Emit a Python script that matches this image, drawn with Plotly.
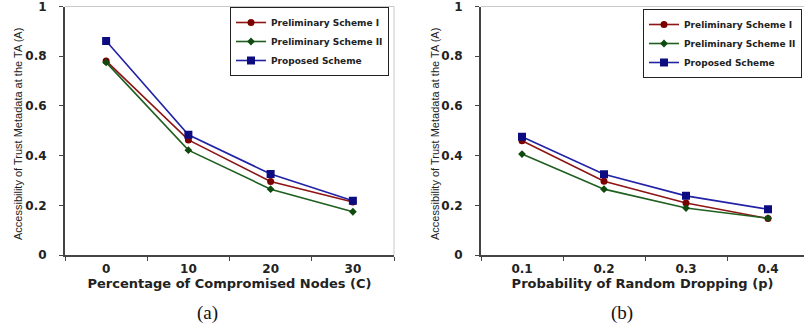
import plotly.graph_objects as go

# ---- data ----
cats_a = ["0", "10", "20", "30"]
cats_b = ["0.1", "0.2", "0.3", "0.4"]
y_ticks = [0, 0.2, 0.4, 0.6, 0.8, 1]
y_ticktext = ["0", "0.2", "0.4", "0.6", "0.8", "1"]

pre1_a = [0.781, 0.463, 0.296, 0.213]
pre2_a = [0.775, 0.422, 0.265, 0.174]
prop_a = [0.861, 0.484, 0.326, 0.218]

pre1_b = [0.460, 0.297, 0.209, 0.147]
pre2_b = [0.406, 0.265, 0.189, 0.148]
prop_b = [0.476, 0.325, 0.238, 0.184]

names = ["Preliminary Scheme I", "Preliminary Scheme II", "Proposed Scheme"]
y_title = "Accessibility of Trust Metadata at the TA (A)"
line_colors = ["#8f1414", "#1f5f1f", "#2222a6"]
marker_colors = ["#7a0000", "#0f4a0f", "#0c0c80"]
symbols = ["circle", "diamond", "square"]
msizes = [7, 6, 8]

W, H = 804, 331

def px_x(p):
    return p / W

def px_y(p):
    return 1 - p / H

fig = go.Figure()

for i, ys in enumerate([pre1_a, pre2_a, prop_a]):
    fig.add_trace(go.Scatter(
        x=cats_a, y=ys, name=names[i], mode="lines+markers",
        line=dict(color=line_colors[i], width=1.6),
        marker=dict(symbol=symbols[i], size=msizes[i], color=marker_colors[i]),
        xaxis="x", yaxis="y", legend="legend"))

for i, ys in enumerate([pre1_b, pre2_b, prop_b]):
    fig.add_trace(go.Scatter(
        x=cats_b, y=ys, name=names[i], mode="lines+markers",
        line=dict(color=line_colors[i], width=1.6),
        marker=dict(symbol=symbols[i], size=msizes[i], color=marker_colors[i]),
        xaxis="x2", yaxis="y2", legend="legend2"))

tickfont = dict(family="DejaVu Sans", size=12, color="#222222", weight="bold")
titlefont_x = dict(family="DejaVu Sans", size=13, color="#222222", weight="bold")
titlefont_y = dict(family="Liberation Sans Narrow, Arial Narrow, Liberation Sans", size=11, color="#222222")
legfont = dict(family="DejaVu Sans", size=9, color="#222222", weight="bold")

ydom = [76 / H, 324.5 / H]

common_x = dict(type="category", tickson="boundaries", ticks="outside", ticklen=4,
                tickcolor="#444444", showline=True, linecolor="#444444", linewidth=2,
                showgrid=False, zeroline=False, tickfont=tickfont, ticklabelstandoff=2)
common_y = dict(range=[0, 1], tickvals=y_ticks, ticktext=y_ticktext, ticks="outside", ticklen=4,
                tickcolor="#444444", showline=True, linecolor="#444444", linewidth=2,
                showgrid=False, zeroline=False, tickfont=tickfont, ticklabelstandoff=10,
                ticklabeloverflow="allow", domain=ydom)

fig.update_layout(
    width=W, height=H, margin=dict(l=0, r=0, t=0, b=0, autoexpand=False),
    paper_bgcolor="white", plot_bgcolor="white",
    xaxis=dict(common_x, domain=[65 / W, 394 / W], range=[-0.5, 3.5], anchor="y",
               title=dict(text="Percentage of Compromised Nodes (C)", font=titlefont_x, standoff=0)),
    yaxis=dict(common_y, anchor="x"),
    xaxis2=dict(common_x, domain=[481 / W, 1.0], range=[-0.5, -0.5 + 323 / 82], anchor="y2",
                title=dict(text="Probability of Random Dropping (p)", font=titlefont_x, standoff=0)),
    yaxis2=dict(common_y, anchor="x2"),
    legend=dict(x=px_x(389), y=px_y(7), xanchor="right", yanchor="top",
                bordercolor="#222222", borderwidth=1, bgcolor="white",
                font=legfont, itemwidth=30, tracegroupgap=0),
    legend2=dict(x=px_x(802), y=px_y(9), xanchor="right", yanchor="top",
                 bordercolor="#222222", borderwidth=1, bgcolor="white",
                 font=legfont, itemwidth=30, tracegroupgap=0),
    showlegend=True,
    shapes=[
        dict(type="line", xref="x domain", yref="y domain", x0=0, x1=1, y0=1, y1=1,
             line=dict(color="#c8c8c8", width=1)),
        dict(type="line", xref="x domain", yref="y domain", x0=1, x1=1, y0=0, y1=1,
             line=dict(color="#c8c8c8", width=1)),
        dict(type="line", xref="x2 domain", yref="y2 domain", x0=0, x1=1, y0=1, y1=1,
             line=dict(color="#c8c8c8", width=1)),
    ],
    annotations=[
        dict(text=y_title, x=px_x(18), y=px_y(134), xref="paper", yref="paper",
             xanchor="center", yanchor="middle", showarrow=False, textangle=-90,
             font=titlefont_y),
        dict(text=y_title, x=px_x(435), y=px_y(134), xref="paper", yref="paper",
             xanchor="center", yanchor="middle", showarrow=False, textangle=-90,
             font=titlefont_y),
        dict(text="(a)", x=px_x(207), y=px_y(313), xref="paper", yref="paper",
             xanchor="center", yanchor="middle", showarrow=False,
             font=dict(family="Liberation Serif, DejaVu Serif", size=19, color="#111111")),
        dict(text="(b)", x=px_x(622), y=px_y(313), xref="paper", yref="paper",
             xanchor="center", yanchor="middle", showarrow=False,
             font=dict(family="Liberation Serif, DejaVu Serif", size=19, color="#111111")),
    ],
)

fig.write_html("out.html", config={"displayModeBar": False},
               post_script="document.body.style.margin='0';document.body.style.overflow='hidden';")
